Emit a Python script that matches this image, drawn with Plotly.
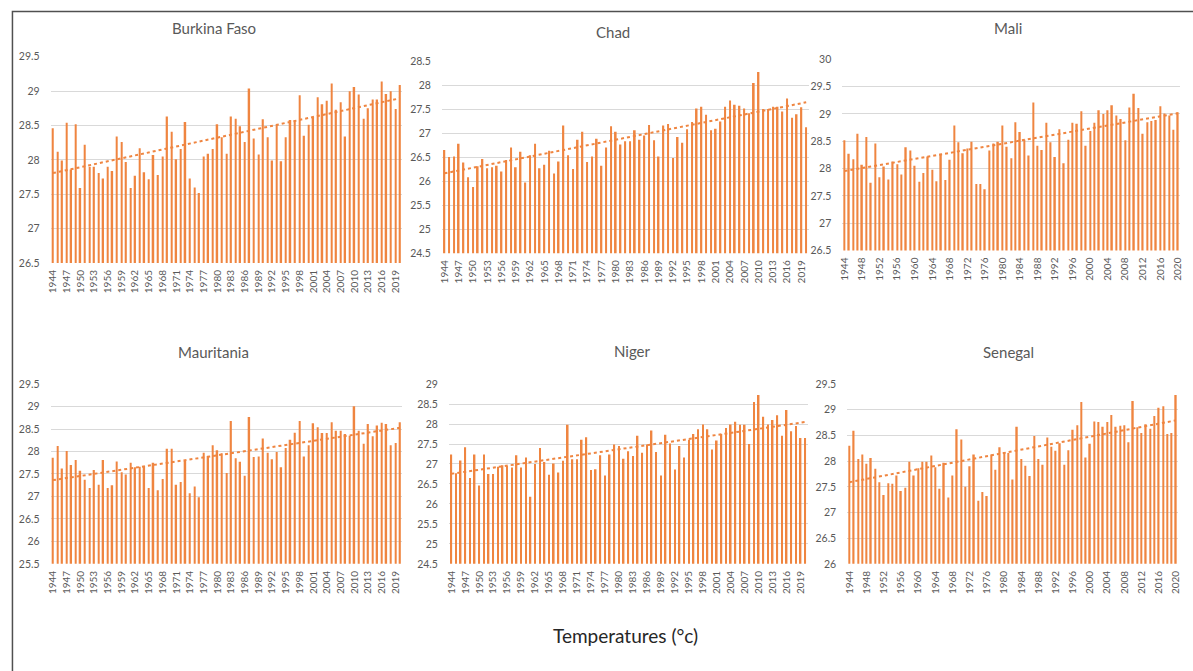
import numpy as np
import plotly.graph_objects as go

years = list(range(1944, 2021))

countries = ["Burkina Faso", "Chad", "Mali", "Mauritania", "Niger", "Senegal"]

burkina = [28.46, 28.12, 27.99, 28.54, 27.86, 28.52, 27.59, 28.22, 27.90, 27.90,
           27.81, 27.73, 27.90, 27.84, 28.34, 28.26, 27.97, 27.59, 27.77, 28.17,
           27.82, 27.72, 28.07, 27.78, 28.05, 28.63, 28.41, 28.01, 28.16, 28.55,
           27.73, 27.60, 27.52, 28.05, 28.09, 28.16, 28.52, 28.33, 28.09, 28.63,
           28.60, 28.49, 28.26, 29.04, 28.31, 28.08, 28.59, 28.33, 27.99, 28.51,
           27.98, 28.33, 28.58, 28.57, 28.94, 28.35, 28.51, 28.62, 28.91, 28.81,
           28.86, 29.11, 28.73, 28.84, 28.34, 29.00, 29.06, 28.95, 28.60, 28.75,
           28.88, 28.88, 29.14, 28.96, 29.00, 28.74, 29.09]

chad = [26.65, 26.50, 26.51, 26.78, 26.39, 26.08, 25.88, 26.31, 26.46, 26.27,
        26.29, 26.32, 26.20, 26.44, 26.70, 26.29, 26.61, 25.97, 26.54, 26.78,
        26.27, 26.34, 26.63, 26.16, 26.41, 27.16, 26.54, 26.25, 26.86, 27.03,
        26.40, 26.51, 26.88, 26.32, 26.70, 27.14, 27.03, 26.76, 26.83, 26.83,
        27.06, 26.86, 26.95, 27.17, 26.85, 26.51, 27.16, 27.19, 26.48, 26.92,
        26.80, 27.08, 27.23, 27.51, 27.55, 27.38, 27.06, 27.09, 27.24, 27.55,
        27.68, 27.59, 27.57, 27.51, 27.41, 28.04, 28.27, 27.50, 27.50, 27.55,
        27.55, 27.45, 27.72, 27.32, 27.39, 27.54, 27.12]

mali = [28.52, 28.27, 28.17, 28.64, 28.07, 28.58, 27.74, 28.46, 27.84, 28.04,
        27.80, 28.13, 28.08, 27.89, 28.39, 28.33, 28.05, 27.76, 27.92, 28.22,
        27.98, 27.77, 28.27, 27.79, 28.16, 28.79, 28.48, 28.28, 28.37, 28.49,
        27.72, 27.72, 27.62, 28.33, 28.46, 28.49, 28.79, 28.40, 28.19, 28.85,
        28.67, 28.53, 28.24, 29.21, 28.42, 28.34, 28.84, 28.48, 28.21, 28.72,
        28.10, 28.53, 28.84, 28.82, 29.05, 28.42, 28.69, 28.84, 29.07, 29.00,
        29.07, 29.16, 28.97, 28.91, 28.52, 29.12, 29.37, 29.11, 28.64, 28.85,
        28.87, 28.89, 29.14, 29.01, 28.97, 28.71, 29.03]

mauritania = [27.86, 28.12, 27.62, 28.01, 27.70, 27.81, 27.57, 27.37, 27.19, 27.59,
              27.26, 27.81, 27.19, 27.25, 27.78, 27.54, 27.49, 27.75, 27.65, 27.66,
              27.68, 27.19, 27.75, 27.14, 27.39, 28.06, 28.06, 27.26, 27.32, 27.79,
              27.07, 27.22, 26.98, 27.97, 27.90, 28.14, 28.03, 27.96, 27.52, 28.68,
              27.85, 27.77, 27.46, 28.77, 27.88, 27.89, 28.29, 27.97, 27.83, 27.99,
              27.65, 28.08, 28.26, 28.42, 28.68, 27.89, 28.14, 28.63, 28.54, 28.41,
              28.41, 28.65, 28.46, 28.46, 28.39, 28.35, 29.01, 28.46, 28.17, 28.61,
              28.34, 28.58, 28.64, 28.61, 28.14, 28.19, 28.65]

niger = [27.24, 26.77, 27.09, 27.42, 26.65, 27.24, 26.46, 27.24, 26.75, 26.75,
         26.93, 26.97, 26.95, 26.91, 27.22, 26.91, 27.16, 26.18, 27.00, 27.40,
         27.05, 26.73, 27.01, 26.79, 27.08, 27.98, 27.12, 27.12, 27.61, 27.67,
         26.85, 26.87, 27.22, 26.71, 27.24, 27.49, 27.45, 27.13, 27.32, 27.20,
         27.71, 27.28, 27.49, 27.84, 27.30, 26.71, 27.73, 27.51, 26.86, 27.45,
         27.16, 27.61, 27.75, 27.87, 27.99, 27.87, 27.36, 27.59, 27.75, 27.90,
         27.99, 28.06, 27.98, 27.98, 27.50, 28.55, 28.73, 28.18, 27.99, 28.10,
         28.22, 27.71, 28.35, 27.82, 27.95, 27.65, 27.65]

senegal = [28.30, 28.59, 28.04, 28.13, 27.95, 28.06, 27.85, 27.59, 27.34, 27.57,
           27.56, 27.72, 27.42, 27.48, 27.99, 27.72, 27.86, 27.99, 27.99, 28.11,
           27.88, 27.46, 27.97, 27.29, 27.72, 28.62, 28.42, 27.50, 27.90, 28.13,
           27.23, 27.40, 27.32, 28.13, 27.83, 28.27, 28.18, 28.16, 27.64, 28.67,
           28.04, 27.91, 27.71, 28.49, 28.04, 27.93, 28.46, 28.28, 28.20, 28.35,
           27.93, 28.21, 28.61, 28.70, 29.15, 28.07, 28.34, 28.77, 28.76, 28.67,
           28.76, 28.90, 28.67, 28.69, 28.70, 28.37, 29.17, 28.66, 28.55, 28.72,
           28.63, 28.88, 29.04, 29.07, 28.53, 28.55, 29.29]

series = [burkina, chad, mali, mauritania, niger, senegal]
y_ranges = [[26.5, 29.5], [24.5, 28.5], [26.5, 30], [25.5, 29.5], [24.5, 29], [26, 29.5]]
x_tick_steps = [3, 3, 4, 3, 3, 4]
main_title = "Temperatures (°c)"

W, H = 1193, 671
# plot areas in pixels: (left, right, top, bottom)
areas = [(46, 400, 51.7, 261.7), (440, 809, 56, 251.7), (843, 1183, 54.3, 249),
         (46, 400, 385, 568), (447, 808, 385, 568), (848, 1181, 385, 568)]
title_pos = [(210, 22), (612, 26), (1010, 22), (210, 352), (632, 351), (1010, 352)]

ORANGE = "#EF8540"
GRAY = "#595959"
FONT = "Lato"

fig = go.Figure()
layout = dict(
    width=W, height=H, margin=dict(l=0, r=0, t=0, b=0),
    paper_bgcolor="white", plot_bgcolor="white", showlegend=False,
    font=dict(family=FONT, color=GRAY),
    annotations=[], shapes=[],
)

for i, (name, vals) in enumerate(zip(countries, series)):
    ax = "" if i == 0 else str(i + 1)
    l, r, t, b = areas[i]
    fig.add_trace(go.Bar(x=years, y=vals, width=0.34, marker=dict(color=ORANGE, line=dict(width=0)),
                         xaxis="x" + ax, yaxis="y" + ax, hoverinfo="x+y"))
    coef = np.polyfit(years, vals, 1)
    tx = [years[0], years[-1]]
    ty = [float(np.polyval(coef, v)) for v in tx]
    fig.add_trace(go.Scatter(x=tx, y=ty, mode="lines", line=dict(color=ORANGE, width=2, dash="dot"),
                             xaxis="x" + ax, yaxis="y" + ax, hoverinfo="skip"))
    step = x_tick_steps[i]
    tickvals = list(range(1944, 2021, step))
    layout["xaxis" + ax] = dict(
        domain=[l / W, r / W], anchor="y" + ax, range=[1943.5, 2020.5],
        tickmode="array", tickvals=tickvals, ticktext=[str(v) for v in tickvals],
        tickangle=-90, tickfont=dict(size=10, color=GRAY, family=FONT),
        showgrid=False, zeroline=False, showline=False, ticks="outside", ticklen=2,
        tickcolor="rgba(0,0,0,0)",
    )
    layout["yaxis" + ax] = dict(
        domain=[1 - b / H, 1 - t / H], anchor="x" + ax, range=y_ranges[i], dtick=0.5,
        tick0=0, showgrid=True, gridcolor="#D9D9D9", gridwidth=1, zeroline=False,
        showline=False, tickfont=dict(size=10.5, color=GRAY, family=FONT),
        ticks="outside", ticklen=8, tickcolor="rgba(0,0,0,0)",
    )
    tx_, ty_ = title_pos[i]
    layout["annotations"].append(dict(
        text=name, x=tx_ / W, y=1 - ty_ / H, xref="paper", yref="paper",
        xanchor="center", yanchor="middle", showarrow=False,
        font=dict(size=15, color=GRAY, family=FONT)))

layout["annotations"].append(dict(
    text=main_title, x=625 / W, y=1 - 641 / H, xref="paper", yref="paper",
    xanchor="center", yanchor="middle", showarrow=False,
    font=dict(size=19, color="#262626", family=FONT)))

layout["shapes"].append(dict(
    type="rect", xref="paper", yref="paper", x0=7.5 / W, x1=1.02, y0=-0.02, y1=1 - 5.5 / H,
    line=dict(color="#505050", width=1.5), fillcolor="rgba(0,0,0,0)", layer="above"))

fig.update_layout(**layout)
fig.write_html("out.html")
